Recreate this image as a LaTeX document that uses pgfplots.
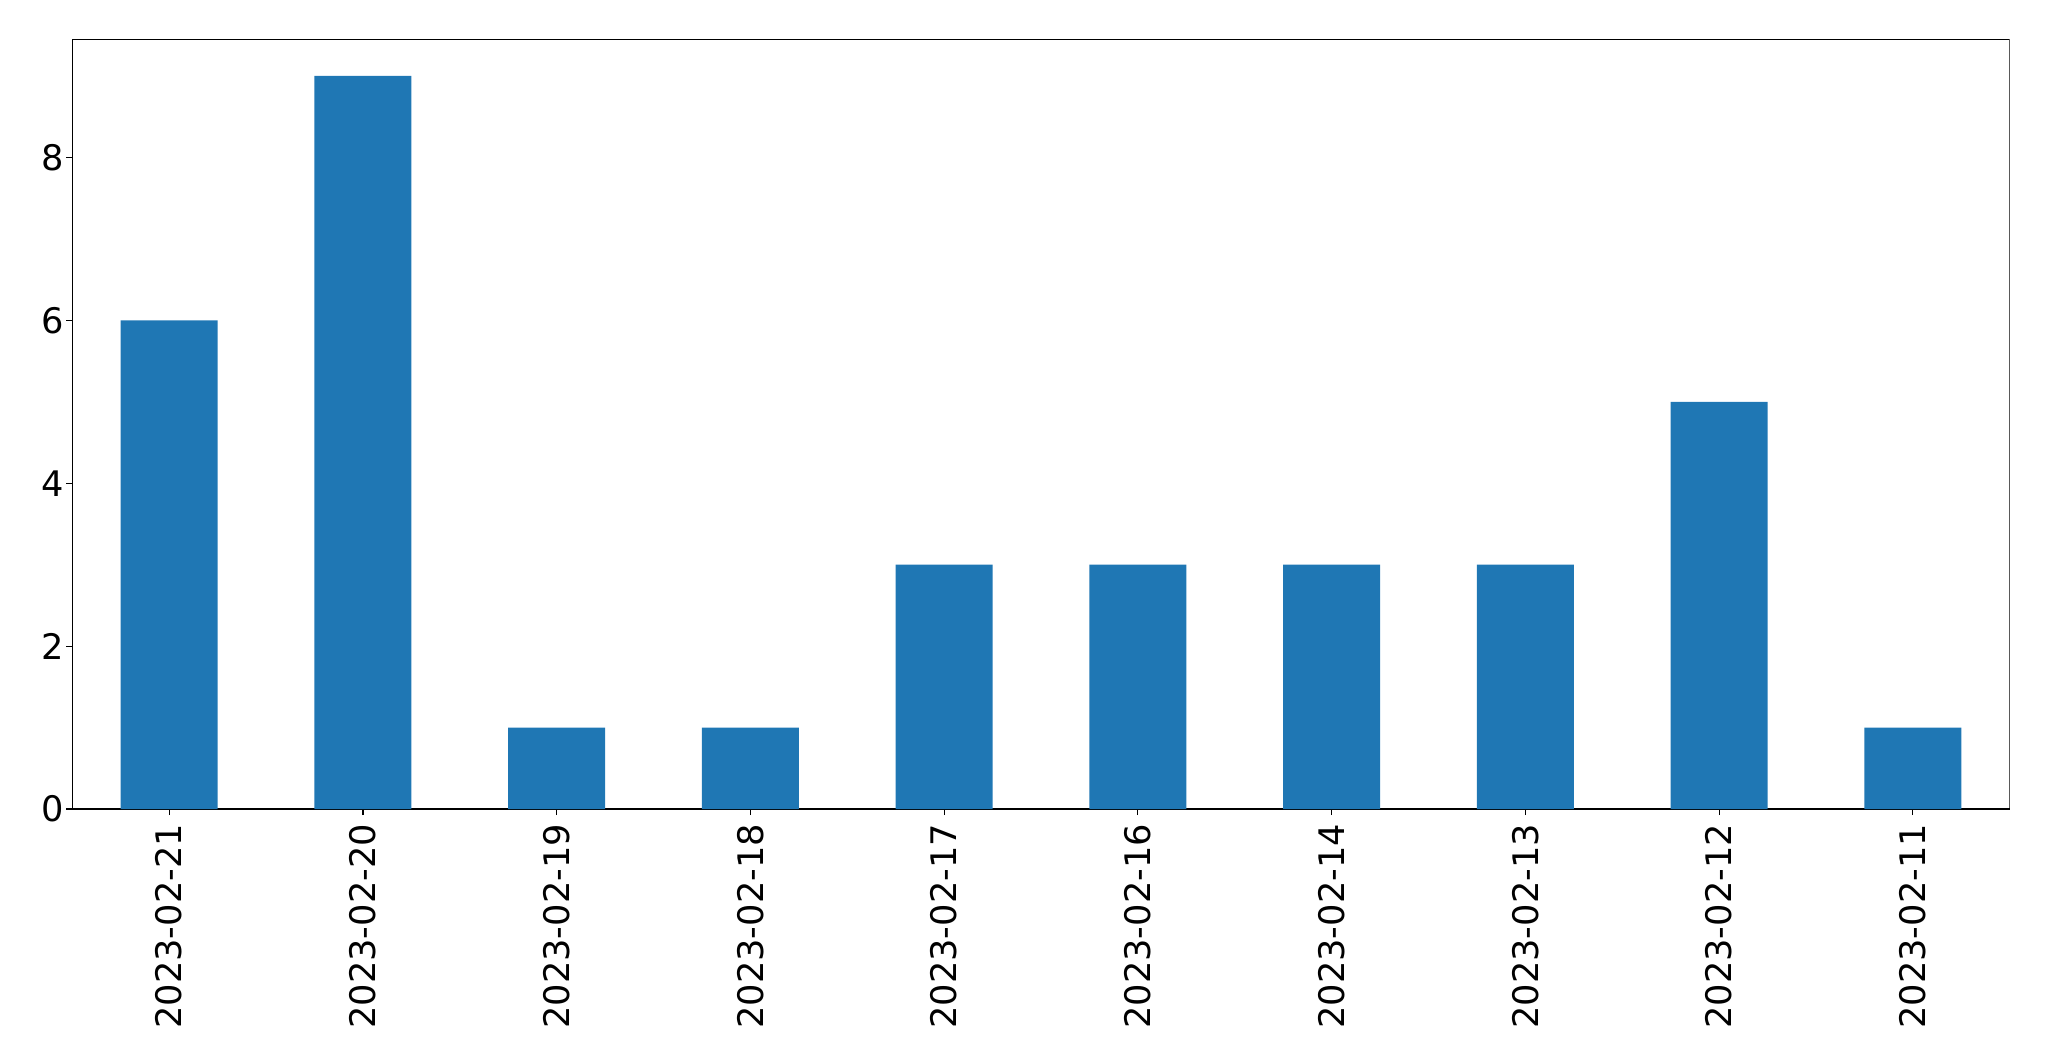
\documentclass[border=0pt]{standalone}
\usepackage{fontspec}
\setmainfont{DejaVu Sans}
\usepackage{pgfplots}
\pgfplotsset{compat=1.18}
\definecolor{mplblue}{HTML}{1F77B4}
\begin{document}
\begin{tikzpicture}
\useasboundingbox (-36.15pt,-126pt) rectangle (988.35pt,404.5pt);
\begin{axis}[
  at={(0pt,0pt)}, anchor=south west,
  scale only axis,
  width=968.7pt, height=384.85pt,
  xmin=-0.5, xmax=9.5, ymin=0, ymax=9.45,
  xtick={0,...,9},
  xticklabels={2023-02-21,2023-02-20,2023-02-19,2023-02-18,2023-02-17,2023-02-16,2023-02-14,2023-02-13,2023-02-12,2023-02-11},
  ytick={0,2,4,6,8},
  x tick label style={yshift=-4.3pt, rotate=90, anchor=east, inner sep=0pt},
  y tick label style={inner sep=0pt, xshift=-0.8pt},
  tick label style={font=\fontsize{17.6}{21}\selectfont},
  /pgf/number format/assume math mode=true,
  tick align=outside,
  major tick length=3pt,
  xtick pos=bottom, ytick pos=left,
  tick style={black, line width=0.6pt},
  axis line style={line width=0.6pt},
  axis x line*=bottom, axis y line*=left,
]
\addplot[ybar, bar width=0.5, fill=mplblue, draw=none] coordinates {
(0,6) (1,9) (2,1) (3,1) (4,3) (5,3) (6,3) (7,3) (8,5) (9,1)};
\draw[line width=0.6pt] (rel axis cs:0,1) -- (rel axis cs:1,1) -- (rel axis cs:1,0);
\end{axis}
\end{tikzpicture}
\end{document}
